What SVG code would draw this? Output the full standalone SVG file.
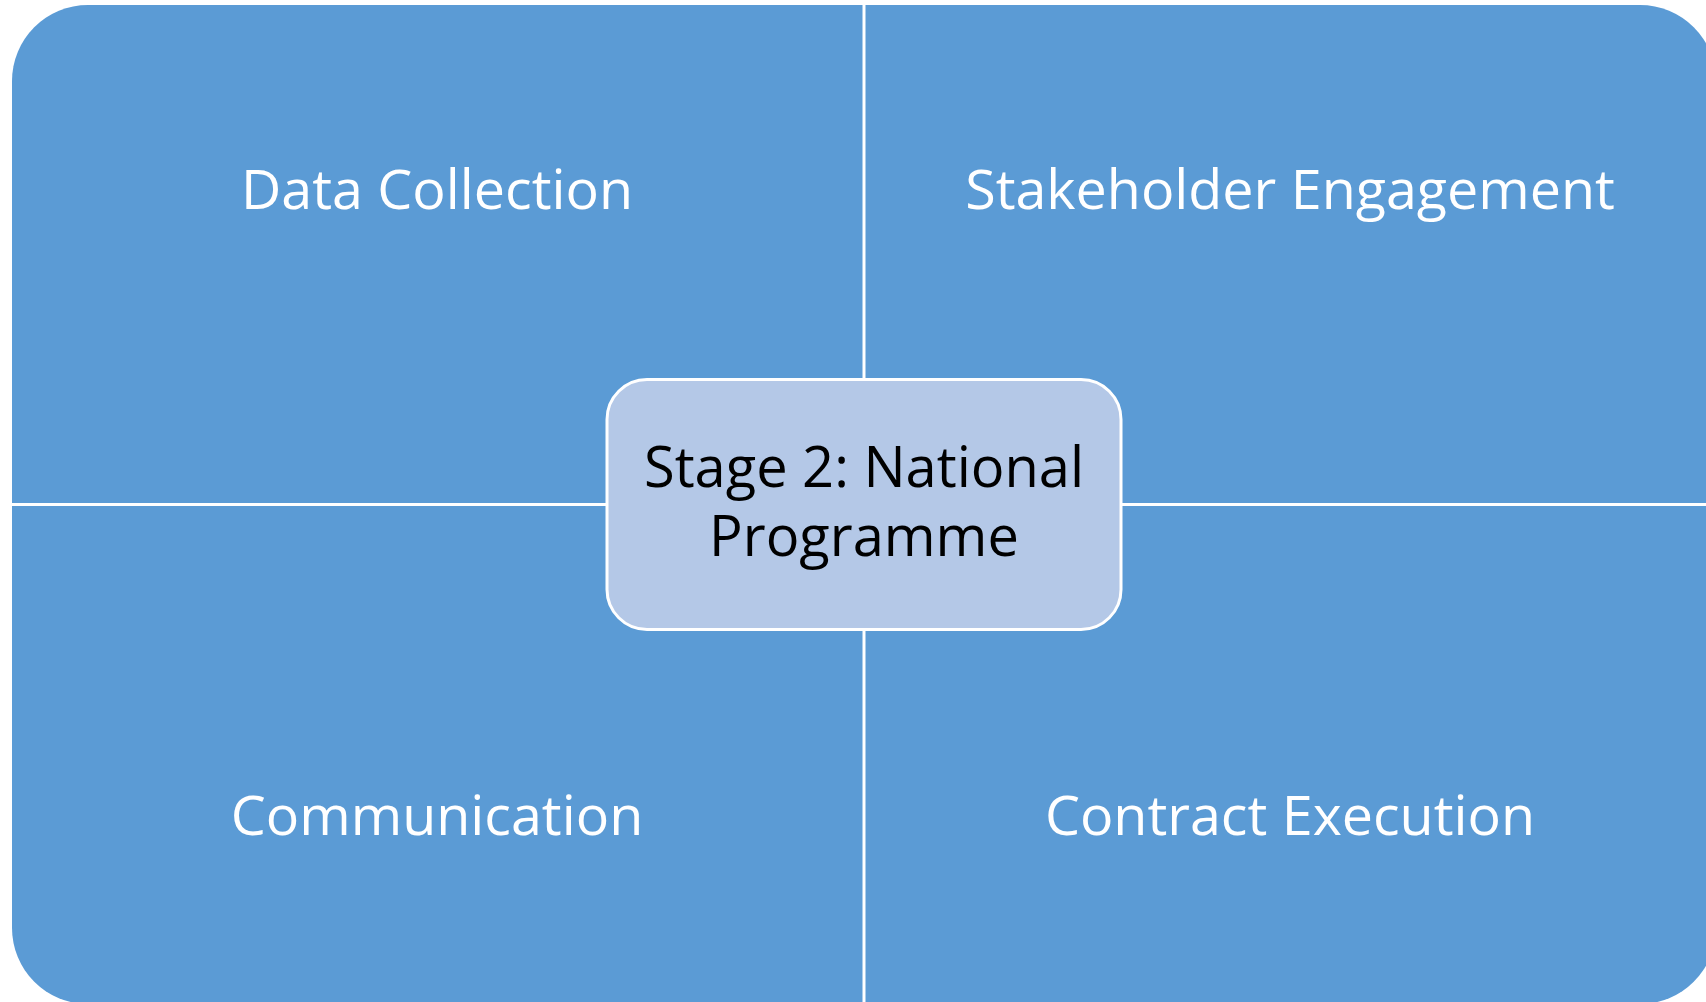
<svg xmlns="http://www.w3.org/2000/svg" width="1706" height="1002" viewBox="0 0 1706 1002">
<style>
.quad{fill:#5B9BD5;}
.lbl{font-family:"Open Sans","Noto Sans",sans-serif;font-size:55.6px;fill:#FFFFFF;text-anchor:middle;}
.center{fill:#B4C8E7;stroke:#FFFFFF;stroke-width:3;}
.ctext{font-family:"Open Sans","Noto Sans",sans-serif;font-size:56px;fill:#000000;text-anchor:middle;}
</style>
<rect width="1706" height="1002" fill="#FFFFFF"/>
<g id="data-collection">
<path class="quad" d="M12,81 A76,76 0 0 1 88,5 L862.5,5 L862.5,503 L12,503 Z"/>
<text class="lbl" x="437" y="209">Data Collection</text>
</g>
<g id="stakeholder-engagement">
<path class="quad" d="M865.5,5 L1640,5 A76,76 0 0 1 1716,81 L1716,503 L865.5,503 Z"/>
<text class="lbl" x="1290" y="209">Stakeholder Engagement</text>
</g>
<g id="communication">
<path class="quad" d="M12,506 L862.5,506 L862.5,1004 L88,1004 A76,76 0 0 1 12,928 Z"/>
<text class="lbl" x="437" y="835">Communication</text>
</g>
<g id="contract-execution">
<path class="quad" d="M865.5,506 L1716,506 L1716,928 A76,76 0 0 1 1640,1004 L865.5,1004 Z"/>
<text class="lbl" x="1290" y="835">Contract Execution</text>
</g>
<g id="stage2">
<rect class="center" x="607" y="379.5" width="514" height="250" rx="40" ry="40"/>
<text class="ctext" x="864" y="487">Stage 2: National</text>
<text class="ctext" x="864" y="556">Programme</text>
</g>
</svg>
